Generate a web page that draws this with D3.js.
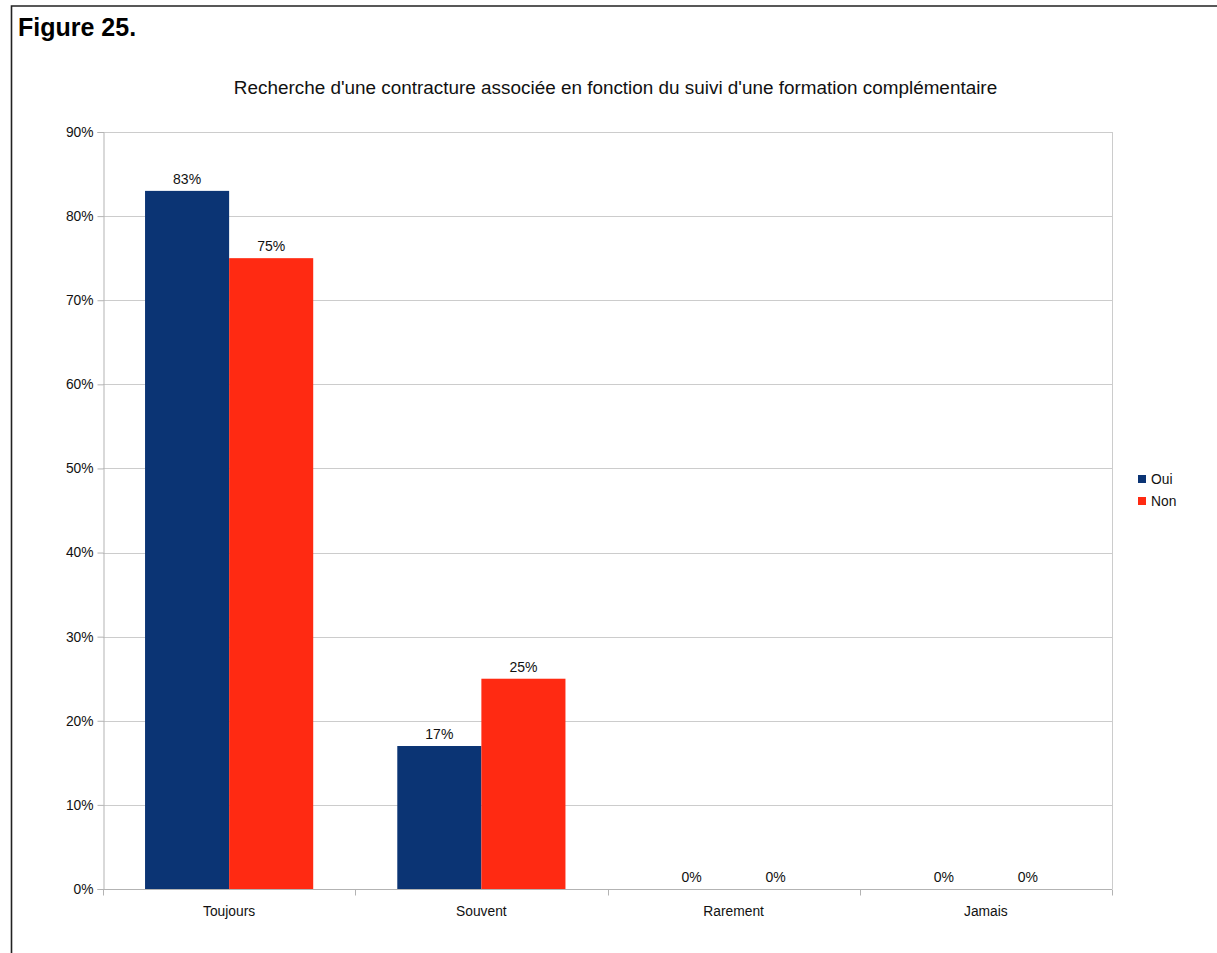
<!DOCTYPE html>
<html>
<head>
<meta charset="utf-8">
<script src="https://cdn.jsdelivr.net/npm/d3@7"></script>
<style>
  html, body { margin: 0; padding: 0; background: #fff; }
  svg { display: block; font-family: "Liberation Sans", Arial, sans-serif; }
</style>
</head>
<body>
<svg id="chart" width="1217" height="953"></svg>
<script>
// Chart content
const figureLabel = "Figure 25.";
const chartTitle = "Recherche d'une contracture associée en fonction du suivi d'une formation complémentaire";
const categories = ["Toujours", "Souvent", "Rarement", "Jamais"];
const seriesNames = ["Oui", "Non"];
const valuesOui = [83, 17, 0, 0];
const valuesNon = [75, 25, 0, 0];
const yTicks = [0, 10, 20, 30, 40, 50, 60, 70, 80, 90];
const seriesColors = ["#0b3474", "#ff2a12"];

const seriesValues = [valuesOui, valuesNon];
const rows = categories.map((c, i) => ({
  category: c,
  values: seriesNames.map((s, j) => ({ series: s, value: seriesValues[j][i], color: seriesColors[j] }))
}));

const svg = d3.select("#chart");
const labelSize = 13.8;

// Frame around the figure (continues past the right and bottom edges)
svg.append("path")
  .attr("d", "M11.5,953 L11.5,6 L1217,6")
  .attr("fill", "none")
  .attr("stroke", "#222")
  .attr("stroke-width", 1.6);

svg.append("text")
  .attr("x", 18)
  .attr("y", 36)
  .attr("font-size", 25)
  .attr("font-weight", "bold")
  .attr("fill", "#000")
  .text(figureLabel);

svg.append("text")
  .attr("x", 615.5)
  .attr("y", 94)
  .attr("text-anchor", "middle")
  .attr("font-size", 18.9)
  .attr("fill", "#111")
  .text(chartTitle);

const plot = { left: 103, right: 1112, top: 132, bottom: 889 };

const x = d3.scaleBand().domain(categories).range([plot.left, plot.right]).padding(0);
const xInner = d3.scaleBand().domain(seriesNames)
  .range([x.bandwidth() / 6, x.bandwidth() * 5 / 6]).padding(0);
const y = d3.scaleLinear().domain([0, 90]).range([plot.bottom, plot.top]);

// Horizontal gridlines
svg.append("g")
  .selectAll("line")
  .data(yTicks.filter(t => t > 0))
  .join("line")
  .attr("x1", plot.left).attr("x2", plot.right)
  .attr("y1", d => Math.round(y(d)) + 0.5).attr("y2", d => Math.round(y(d)) + 0.5)
  .attr("stroke", "#cccccc").attr("stroke-width", 1);

// Right edge of the plot area
svg.append("line")
  .attr("x1", plot.right + 0.5).attr("x2", plot.right + 0.5)
  .attr("y1", plot.top).attr("y2", plot.bottom)
  .attr("stroke", "#cccccc");

// Y axis
const yAxis = svg.append("g")
  .attr("transform", `translate(${plot.left + 0.5},0)`)
  .call(d3.axisLeft(y).tickValues(yTicks).tickFormat(d => d + "%").tickSize(6).tickPadding(4));
yAxis.attr("font-family", null).attr("font-size", null);
yAxis.select(".domain").attr("stroke", "#b3b3b3");
yAxis.selectAll(".tick line").attr("stroke", "#b3b3b3");
yAxis.selectAll(".tick text").attr("font-size", labelSize).attr("fill", "#111");

// Bars
const groups = svg.append("g")
  .selectAll("g")
  .data(rows)
  .join("g")
  .attr("transform", d => `translate(${x(d.category)},0)`);

groups.selectAll("rect")
  .data(d => d.values)
  .join("rect")
  .attr("x", d => xInner(d.series))
  .attr("width", xInner.bandwidth())
  .attr("y", d => y(d.value))
  .attr("height", d => plot.bottom - y(d.value))
  .attr("fill", d => d.color);

groups.selectAll("text")
  .data(d => d.values)
  .join("text")
  .attr("x", d => xInner(d.series) + xInner.bandwidth() / 2)
  .attr("y", d => y(d.value) - 7)
  .attr("text-anchor", "middle")
  .attr("font-size", 14)
  .attr("fill", "#111")
  .text(d => d.value + "%");

// X axis with ticks at category boundaries
const xAxisG = svg.append("g").attr("transform", `translate(0,${plot.bottom + 0.5})`);
xAxisG.append("line")
  .attr("x1", plot.left).attr("x2", plot.right)
  .attr("stroke", "#b3b3b3");
const boundaries = categories.map(c => x(c)).concat([x(categories[categories.length - 1]) + x.bandwidth()]);
xAxisG.selectAll("line.tick")
  .data(boundaries)
  .join("line")
  .attr("class", "tick")
  .attr("x1", d => Math.round(d) + 0.5).attr("x2", d => Math.round(d) + 0.5)
  .attr("y1", 0).attr("y2", 6)
  .attr("stroke", "#b3b3b3");
xAxisG.selectAll("text")
  .data(categories)
  .join("text")
  .attr("x", d => x(d) + x.bandwidth() / 2)
  .attr("y", 26)
  .attr("text-anchor", "middle")
  .attr("font-size", labelSize)
  .attr("fill", "#111")
  .text(d => d);

// Legend
const legend = svg.append("g").attr("transform", "translate(1138,473)");
const items = legend.selectAll("g")
  .data(seriesNames)
  .join("g")
  .attr("transform", (d, i) => `translate(0,${i * 22})`);
items.append("rect")
  .attr("width", 8).attr("height", 8)
  .attr("y", 2)
  .attr("fill", (d, i) => seriesColors[i]);
items.append("text")
  .attr("x", 13)
  .attr("y", 11)
  .attr("font-size", labelSize)
  .attr("fill", "#111")
  .text(d => d);
</script>
</body>
</html>
